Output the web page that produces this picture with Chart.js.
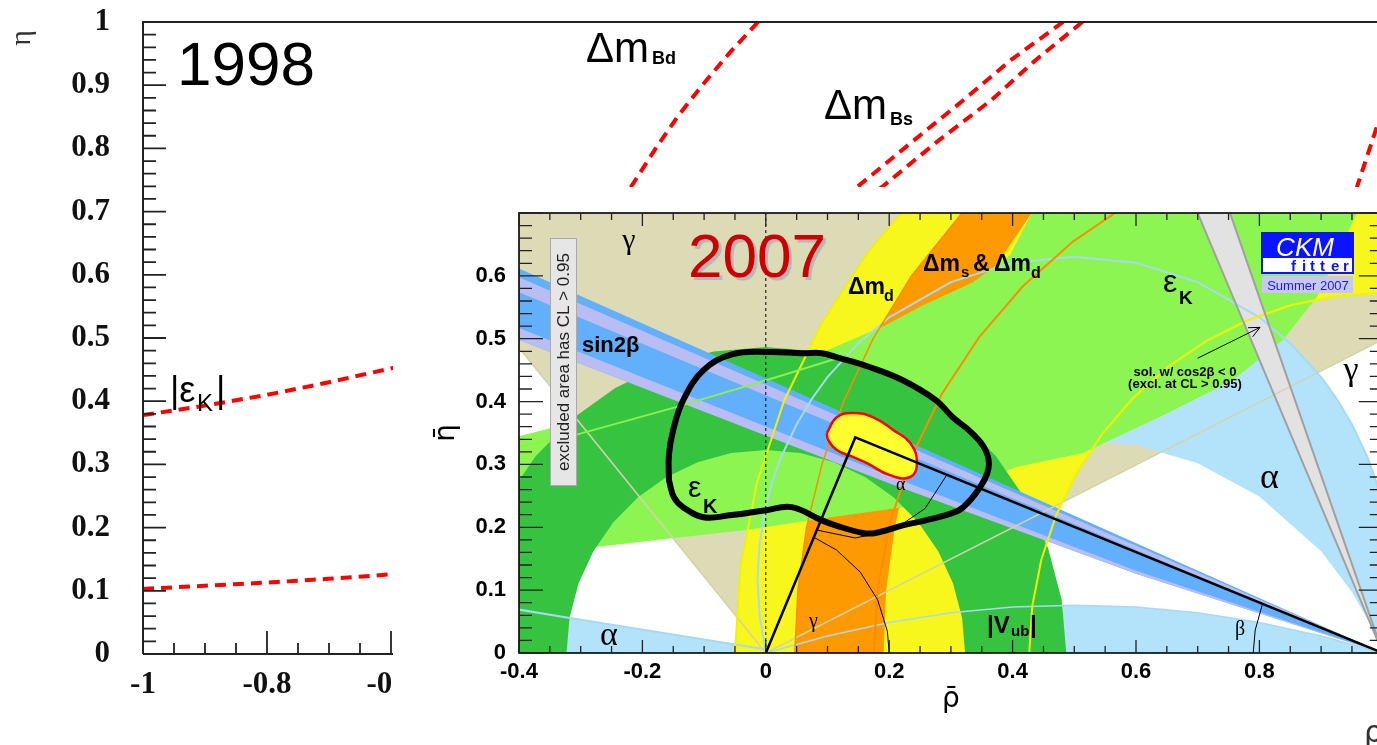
<!DOCTYPE html>
<html><head><meta charset="utf-8">
<script src="https://cdn.jsdelivr.net/npm/chart.js@4.4.1/dist/chart.umd.min.js"></script>
<style>
html,body{margin:0;padding:0;background:#fff;overflow:hidden;width:1377px;height:745px;position:relative;}
#c1{position:absolute;left:0;top:0;}
#wrap2{position:absolute;left:393px;top:187px;width:1002px;height:535px;background:#fff;}
#c2{position:absolute;left:0;top:0;}
</style></head><body>
<canvas id="c1" width="1400" height="745"></canvas>
<div id="wrap2"><canvas id="c2" width="1002" height="535"></canvas></div>
<script>
// ================= 1998 chart data (rho, eta) =================
const xLabels98 = ['-1','-0.8','-0.6','-0.4','-0.2','0','0.2','0.4','0.6','0.8','1'];
const yLabels98 = ['0','0.1','0.2','0.3','0.4','0.5','0.6','0.7','0.8','0.9','1'];
const epsK98Lower = [[-1,0.103],[-0.9,0.108],[-0.8,0.113],[-0.7,0.119],[-0.6,0.126],[-0.55,0.129]];
const epsK98Upper = [[-1,0.378],[-0.9,0.393],[-0.8,0.410],[-0.7,0.430],[-0.6,0.452],[-0.55,0.463]];
const dmBd98  = [[-0.008,1.0],[-0.055,0.95],[-0.098,0.9],[-0.138,0.85],[-0.173,0.8],[-0.213,0.739],[-0.25,0.68]];
const dmBsA98 = [[0.484,1.0],[0.40,0.94],[0.324,0.877],[0.24,0.81],[0.152,0.739],[0.10,0.70]];
const dmBsB98 = [[0.515,1.0],[0.44,0.94],[0.369,0.877],[0.28,0.81],[0.192,0.739],[0.14,0.70]];
const dmRight98 = [[1.0,0.86],[0.99,0.834],[0.958,0.739],[0.94,0.70]];

// ================= 2007 inset data (rho-bar, eta-bar) =================
const xLabelsIn = ['-0.4','-0.2','0','0.2','0.4','0.6','0.8'];
const yLabelsIn = ['0','0.1','0.2','0.3','0.4','0.5','0.6'];
const gammaWedge = [[0,0],[1.6,0.798],[1.6,0.85],[-0.701,0.85],[0,0]];
const alphaOuterArc = [[0,0],[-0.010,0.06],[-0.0135,0.117],[-0.010,0.174],[0,0.234],[0.01,0.2706],[0.025,0.312],[0.05,0.364],[0.075,0.405],[0.1,0.439],[0.15,0.493],[0.2,0.534],[0.3,0.59],[0.4,0.621],[0.5,0.6305],[0.6,0.621],[0.7,0.59],[0.8,0.534],[0.85,0.493],[0.9,0.439],[0.925,0.405],[0.95,0.364],[0.975,0.312],[0.99,0.2706],[1.0,0.234],[1.010,0.174],[1.0135,0.117],[1.010,0.06],[1,0]];
const alphaInnerArc = [[1,0],[0.975,0.054],[0.95,0.097],[0.9,0.162],[0.8,0.249],[0.7,0.302],[0.6,0.331],[0.5,0.34],[0.4,0.331],[0.3,0.302],[0.2,0.249],[0.1,0.162],[0.05,0.097],[0.025,0.054],[0,0]];
const alphaLowArc = [[0,0],[0.1,0.027],[0.2,0.0485],[0.3,0.064],[0.4,0.073],[0.5,0.076],[0.6,0.073],[0.7,0.064],[0.8,0.0485],[0.9,0.027],[1,0]];
const alphaLeft = [[-0.5,0],[-0.5,0.085],[-0.325,0.057],[-0.047,0.013],[0,0.0055],[0,0]];
const alphaLeftEdge = [[-0.5,0.085],[-0.325,0.057],[-0.047,0.013],[0,0.0055]];
const dmdOuter = [[-0.05,0],[-0.041,0.137],[-0.0142,0.2718],[0.0299,0.4018],[0.0907,0.525],[0.167,0.6392],[0.2575,0.7425],[0.3608,0.833],[0.475,0.9093]];
const dmdFar = [[1.5,0.9093],[1.5,0.4962]];
const dmdInner = [[1.2865,0.4962],[1.1483,0.5535],[1,0.573],[0.9252,0.5681],[0.8517,0.5535],[0.7807,0.5294],[0.7135,0.4962],[0.6512,0.4546],[0.5948,0.4052],[0.5454,0.3488],[0.5038,0.2865],[0.4706,0.2193],[0.4465,0.1483],[0.4319,0.0748],[0.427,0]];
const orangeOuter = [[0.047,0],[0.052,0.1],[0.066,0.2],[0.091,0.3],[0.126,0.4],[0.174,0.5],[0.236,0.6],[0.318,0.7],[0.42,0.8]];
const orangeInner = [[0.525,0.8],[0.431,0.7],[0.362,0.6],[0.307,0.5],[0.264,0.4],[0.232,0.3],[0.209,0.2],[0.195,0.1],[0.191,0]];
const dmsArc = [[0.6513,0.7477],[0.5875,0.7145],[0.4978,0.6545],[0.4166,0.5834],[0.3455,0.5022],[0.2855,0.4125],[0.2378,0.3157],[0.2031,0.2135],[0.1821,0.1077],[0.175,0]];
const epsUpper = [[-0.45,0.33],[-0.4,0.345],[-0.3,0.37],[-0.2,0.395],[-0.1,0.42],[0,0.45],[0.091,0.478],[0.193,0.521],[0.254,0.553],[0.336,0.59],[0.396,0.633],[0.431,0.7],[0.45,0.75]];
const epsRight = [[0.98,0.75],[0.958,0.7],[0.925,0.63],[0.893,0.566]];
const epsLower = [[0.838,0.498],[0.757,0.434],[0.650,0.381],[0.514,0.318],[0.406,0.296],[0.3,0.255],[0.222,0.232],[0.1,0.215],[-0.028,0.196],[-0.148,0.183],[-0.272,0.169],[-0.4,0.158],[-0.45,0.154]];
const epsLine = [[-0.45,0.318],[-0.308,0.347],[-0.15,0.39],[0.018,0.439],[0.12,0.47]];
const vubOuter = [[0.487,0],[0.4796,0.0846],[0.4576,0.1666],[0.4218,0.2435],[0.3731,0.3130],[0.3130,0.3731],[0.2435,0.4218],[0.1666,0.4576],[0.0846,0.4796],[0,0.487],[-0.0846,0.4796],[-0.1666,0.4576],[-0.2435,0.4218],[-0.3130,0.3731],[-0.3731,0.3130],[-0.4218,0.2435],[-0.4576,0.1666],[-0.4796,0.0846],[-0.487,0]];
const vubInner = [[-0.323,0],[-0.3181,0.0561],[-0.3035,0.1105],[-0.2797,0.1615],[-0.2474,0.2076],[-0.2076,0.2474],[-0.1615,0.2797],[-0.1105,0.3035],[-0.0561,0.3181],[0,0.323],[0.0561,0.3181],[0.1105,0.3035],[0.1615,0.2797],[0.2076,0.2474],[0.2474,0.2076],[0.2797,0.1615],[0.3035,0.1105],[0.3181,0.0561],[0.323,0]];
const sinBand = [[1,0],[0.6,0.126],[0.2,0.27],[-0.4,0.498],[-0.5,0.535],[-0.5,0.6555]];
const sinLavUpper = [[1,0],[-0.5,0.615],[-0.5,0.6405]];
const sinLavLower = [[1,0],[0.6,0.126],[0.2,0.27],[-0.4,0.498],[-0.5,0.535],[-0.5,0.555],[-0.4,0.517],[0.2,0.282],[0.6,0.131]];
const grayWedge = [[1,0],[0.657,0.8],[0.717,0.8]];
const grayEdgeL = [[1,0],[0.657,0.8]];
const grayEdgeR = [[1,0],[0.717,0.8]];
const tanRayL = [[0,0],[-0.42,0.51]];
const tanRayR = [[0,0],[1.0,0.4986]];
const zeroLine = [[0,0],[0,0.7]];
const utTriangle = [[0,0],[0.145,0.343],[1,0]];
const gammaAngle = [[0.078,0.184],[0.1147,0.1638],[0.1532,0.1286],[0.1813,0.0845],[0.197,0.0347],[0.2,0]];
const alphaAngle = [[0.0828,0.1956],[0.145,0.183],[0.2062,0.1952],[0.2581,0.2299],[0.2934,0.2833]];
const betaAngle = [[0.79,0],[0.7932,0.0365],[0.805,0.078]];
const arrowLine = [[0.700,0.469],[0.801,0.518]];
const arrowHead = [[0.7815,0.5175],[0.801,0.518],[0.789,0.503]];
const fitBlob = [[0.099,0.350],[0.115,0.375],[0.141,0.382],[0.174,0.375],[0.206,0.355],[0.234,0.334],[0.245,0.302],[0.234,0.280],[0.201,0.283],[0.164,0.302],[0.141,0.312],[0.115,0.323],[0.101,0.339],[0.099,0.350]];
const contour98 = [[-0.157,0.275],[-0.157,0.315],[-0.150,0.355],[-0.134,0.402],[-0.101,0.450],[-0.055,0.475],[0.005,0.479],[0.059,0.477],[0.091,0.477],[0.113,0.471],[0.168,0.455],[0.222,0.434],[0.276,0.402],[0.303,0.375],[0.333,0.351],[0.356,0.323],[0.361,0.294],[0.344,0.259],[0.320,0.232],[0.303,0.223],[0.259,0.211],[0.222,0.203],[0.178,0.191],[0.157,0.191],[0.113,0.203],[0.091,0.211],[0.042,0.232],[0.0,0.227],[-0.059,0.219],[-0.101,0.216],[-0.134,0.232],[-0.149,0.248],[-0.157,0.275]];

// ================= helpers =================
const pts = a => a.map(p => ({x:p[0], y:p[1]}));
const lab = (list, v) => { const s = list.find(l => Math.abs(parseFloat(l) - v) < 1e-6); return s === undefined ? '' : s; };
function area(d, color, extra){ return Object.assign({data:pts(d), fill:'shape', backgroundColor:color, borderWidth:0, pointRadius:0, pointHoverRadius:0, tension:0}, extra||{}); }
function line(d, color, w, extra){ return Object.assign({data:pts(d), fill:false, borderColor:color, borderWidth:w, pointRadius:0, pointHoverRadius:0, tension:0}, extra||{}); }
function T(c, s, x, y, font, color, align, base){ c.font=font; c.fillStyle=color||'#000'; c.textAlign=align||'left'; c.textBaseline=base||'alphabetic'; c.fillText(s,x,y); }
const fixV = w => s => { s.width=w; s.paddingTop=0; s.paddingBottom=0; };
const fixH = h => s => { s.height=h; s.paddingLeft=0; s.paddingRight=0; };

// ================= 1998 chart =================
const dashStyle = {borderDash:[11,7], borderCapStyle:'butt'};
const labels98 = [
  {t:'1998', x:177, y:85, f:'62px "Liberation Sans"'},
  {t:'\u0394m', x:586, y:62, f:'42px "Liberation Sans"'},
  {t:'Bd', x:652, y:64, f:'bold 18px "Liberation Sans Narrow","Liberation Sans"'},
  {t:'\u0394m', x:824, y:119, f:'42px "Liberation Sans"'},
  {t:'Bs', x:890, y:125, f:'bold 18px "Liberation Sans Narrow","Liberation Sans"'},
  {t:'|\u03b5', x:170, y:402, f:'36px "Liberation Sans"'},
  {t:'K', x:197, y:411, f:'24px "Liberation Sans"'},
  {t:'|', x:216, y:402, f:'36px "Liberation Sans"'},
  {t:'\u03c1\u0304', x:1364, y:742, f:'30px "DejaVu Sans"', c:'#333'}
];
const frame98 = {
  id:'frame98',
  afterDraw(chart){
    const c=chart.ctx, ca=chart.chartArea, xs=chart.scales.x, ys=chart.scales.y;
    c.save();
    c.strokeStyle='#222'; c.lineWidth=2;
    c.beginPath();
    c.moveTo(ca.left,ca.bottom); c.lineTo(ca.left,ca.top); c.lineTo(ca.right,ca.top);
    c.moveTo(ca.left,ca.bottom); c.lineTo(ca.right,ca.bottom);
    c.stroke();
    c.lineWidth=1.8; c.beginPath();
    for(let i=0;i<=40;i++){ const px=xs.getPixelForValue(-1+i*0.05); const L=(i%4===0)?23:11; c.moveTo(px,ca.bottom); c.lineTo(px,ca.bottom-L); }
    for(let i=0;i<=50;i++){ const py=ys.getPixelForValue(i*0.02); const L=(i%5===0)?23:13; c.moveTo(ca.left,py); c.lineTo(ca.left+L,py); }
    c.stroke();
    labels98.forEach(l => T(c,l.t,l.x,l.y,l.f,l.c||'#000'));
    c.save(); c.translate(22,38); c.rotate(-Math.PI/2);
    T(c,'\u03b7',0,0,'30px "Liberation Serif"','#333','center','middle');
    c.restore();
    c.restore();
  }
};
new Chart(document.getElementById('c1'), {
  type:'line',
  data:{datasets:[
    line(epsK98Lower,'#ff0000',4,dashStyle),
    line(epsK98Upper,'#ff0000',4,dashStyle),
    line(dmBd98,'#ff0000',4,dashStyle),
    line(dmBsA98,'#ff0000',4,dashStyle),
    line(dmBsB98,'#ff0000',4,dashStyle),
    line(dmRight98,'#ff0000',4,dashStyle)
  ]},
  options:{
    responsive:false, animation:false, events:[], devicePixelRatio:1,
    layout:{padding:{left:0,top:22,right:17,bottom:0}},
    plugins:{legend:{display:false}, tooltip:{enabled:false}},
    scales:{
      x:{type:'linear', min:-1, max:1,
         ticks:{stepSize:0.2, autoSkip:false, maxRotation:0, padding:12, color:'#111',
                font:{family:'"Liberation Serif"', weight:'bold', size:31}, callback:v=>lab(xLabels98,v)},
         grid:{display:false, drawTicks:false}, border:{display:false},
         afterFit:fixH(91)},
      y:{type:'linear', min:0, max:1,
         ticks:{stepSize:0.1, autoSkip:false, padding:33, color:'#111',
                font:{family:'"Liberation Serif"', weight:'bold', size:31}, callback:v=>lab(yLabels98,v)},
         grid:{display:false, drawTicks:false}, border:{display:false},
         afterFit:fixV(143)}
    }
  },
  plugins:[frame98]
});

// ================= 2007 inset =================
const OX=393, OY=187;
const TAN='#dddbb5', LBLUE='#b2e3fa', YEL='#f7f71e', ORA='#fd9a02', LGREEN='#8df552', DGREEN='#35c340', BLUE='#62b0fb', LAV='#b9bdf3', GRAY='#e2e2e2';
const insetLabels = [
  {t:'2007', x:691, y:280, f:'62px "Liberation Sans"', c:'#b8b8b8'},
  {t:'2007', x:688, y:277, f:'62px "Liberation Sans"', c:'#cc0000'},
  {t:'\u03b3', x:629, y:249, f:'30px "Liberation Serif"', a:'center'},
  {t:'sin2\u03b2', x:582, y:352, f:'bold 22px "Liberation Sans"'},
  {t:'\u0394m', x:848, y:294, f:'bold 23px "Liberation Sans"'},
  {t:'d', x:884, y:301, f:'bold 16px "Liberation Sans"'},
  {t:'\u0394m', x:923, y:271, f:'bold 23px "Liberation Sans"'},
  {t:'s', x:961, y:277, f:'bold 15px "Liberation Sans"'},
  {t:'&', x:973, y:271, f:'bold 23px "Liberation Sans"'},
  {t:'\u0394m', x:994, y:271, f:'bold 23px "Liberation Sans"'},
  {t:'d', x:1031, y:278, f:'bold 16px "Liberation Sans"'},
  {t:'\u03b5', x:1163, y:292, f:'32px "Liberation Sans"'},
  {t:'K', x:1179, y:304, f:'bold 19px "Liberation Sans"'},
  {t:'\u03b3', x:1351, y:380, f:'34px "Liberation Serif"', a:'center'},
  {t:'\u03b1', x:1260, y:488, f:'36px "Liberation Serif"'},
  {t:'\u03b1', x:600, y:645, f:'34px "Liberation Serif"'},
  {t:'\u03b1', x:896, y:490, f:'18px "Liberation Serif"'},
  {t:'\u03b3', x:809, y:627, f:'20px "Liberation Serif"'},
  {t:'\u03b2', x:1235, y:635, f:'20px "Liberation Serif"'},
  {t:'\u03b5', x:688, y:497, f:'30px "Liberation Sans"'},
  {t:'K', x:703, y:513, f:'bold 20px "Liberation Sans"'},
  {t:'|V', x:987, y:633, f:'bold 24px "Liberation Sans"'},
  {t:'ub', x:1011, y:636, f:'bold 15px "Liberation Sans"'},
  {t:'|', x:1030, y:633, f:'bold 24px "Liberation Sans"'},
  {t:'sol. w/ cos2\u03b2 < 0', x:1185, y:376, f:'bold 13px "Liberation Sans"', a:'center'},
  {t:'(excl. at CL > 0.95)', x:1185, y:388, f:'bold 13px "Liberation Sans"', a:'center'}
];
const insetDeco = {
  id:'insetDeco',
  afterDraw(chart){
    const c=chart.ctx, ca=chart.chartArea, xs=chart.scales.x, ys=chart.scales.y;
    c.save();
    c.strokeStyle='#000'; c.lineWidth=1.6;
    c.strokeRect(ca.left,ca.top,ca.right-ca.left,ca.bottom-ca.top);
    c.lineWidth=1.3; c.strokeStyle='#222'; c.beginPath();
    for(let i=0;i<=28;i++){ const px=xs.getPixelForValue(-0.4+i*0.05); const L=(i%4===0)?13:7;
      c.moveTo(px,ca.bottom); c.lineTo(px,ca.bottom-L); c.moveTo(px,ca.top); c.lineTo(px,ca.top+L); }
    for(let i=0;i<=35;i++){ const py=ys.getPixelForValue(i*0.02); const L=(i%5===0)?24:13;
      c.moveTo(ca.left,py); c.lineTo(ca.left+L,py); c.moveTo(ca.right,py); c.lineTo(ca.right-L,py); }
    c.stroke();
    c.translate(-OX,-OY);
    insetLabels.forEach(l => T(c,l.t,l.x,l.y,l.f,l.c||'#000',l.a||'left'));
    // excluded-area note
    c.fillStyle='#e6e6e6'; c.fillRect(550,238,26,247);
    c.strokeStyle='#aaaaaa'; c.lineWidth=1; c.strokeRect(550.5,238.5,26,247);
    c.save(); c.translate(564,362); c.rotate(-Math.PI/2);
    T(c,'excluded area has CL > 0.95',0,0,'17px "Liberation Sans"','#222','center','middle');
    c.restore();
    // CKMfitter logo
    c.fillStyle='#0a14ff'; c.fillRect(1262,233,91,25);
    T(c,'CKM',1305,256,'italic 26px "Liberation Sans"','#ffffff','center');
    c.fillStyle='#ffffff'; c.fillRect(1263,258,89,14);
    c.strokeStyle='#0a14ff'; c.lineWidth=2; c.strokeRect(1262,233,91,40);
    const fx=[1291,1302,1310,1320,1331,1343];
    'fitter'.split('').forEach((ch,i)=>T(c,ch,fx[i],271,'bold 15px "Liberation Sans"','#0a14ff','left'));
    c.fillStyle='#c8c8f2'; c.fillRect(1262,276,91,17);
    T(c,'Summer 2007',1308,290,'13px "Liberation Sans"','#1a1aff','center');
    c.restore();
  }
};
const layers = [
  area(gammaWedge, TAN),
  area(alphaOuterArc.concat(alphaInnerArc), LBLUE),
  area(alphaLowArc, LBLUE),
  area(alphaLeft, LBLUE),
  area(dmdOuter.concat(dmdFar, dmdInner), YEL),
  area(orangeOuter.concat(orangeInner), ORA),
  area(epsUpper.concat(epsRight, epsLower), LGREEN),
  area(vubOuter.concat(vubInner), DGREEN),
  area(sinBand, BLUE),
  area(sinLavUpper, LAV),
  area(sinLavLower, LAV),
  area(grayWedge, GRAY),
  line(tanRayL,'#d6d2a8',1.5),
  line(tanRayR,'#d6d2a8',1.5),
  line(alphaOuterArc,'#a6daf2',2),
  line(alphaLowArc,'#a6daf2',1.5),
  line(alphaLeftEdge,'#a6daf2',2),
  line(dmdOuter,'#f2f200',2),
  line(dmdInner,'#f2f200',2),
  line(orangeOuter,'#ff8c00',1.5),
  line(dmsArc,'#ff8c00',2),
  line(epsLine,'#8cf04c',2),
  line(grayEdgeL,'#a0a0a0',2),
  line(grayEdgeR,'#a0a0a0',2),
  line(zeroLine,'#000',1,{borderDash:[3,3]}),
  area(fitBlob,'#ffff30',{borderWidth:2.5, borderColor:'#ff0000', tension:0.45}),
  line(utTriangle,'#000',2.5),
  line(gammaAngle,'#000',1),
  line(alphaAngle,'#000',1),
  line(betaAngle,'#000',1),
  line(arrowLine,'#000',1),
  line(arrowHead,'#000',1),
  line(contour98,'#000',6,{tension:0.4, borderJoinStyle:'round', borderCapStyle:'round'})
];
layers.forEach((d,i)=>{ d.order = layers.length - i; });
new Chart(document.getElementById('c2'), {
  type:'line',
  data:{datasets:layers},
  options:{
    responsive:false, animation:false, events:[], devicePixelRatio:1,
    layout:{padding:{left:0,top:26,right:12.2,bottom:0}},
    plugins:{legend:{display:false}, tooltip:{enabled:false}},
    scales:{
      x:{type:'linear', min:-0.4, max:1.0,
         ticks:{stepSize:0.2, autoSkip:false, maxRotation:0, padding:6, color:'#000',
                font:{family:'"Liberation Sans"', weight:'bold', size:22}, callback:v=>lab(xLabelsIn,v)},
         grid:{display:false, drawTicks:false}, border:{display:false},
         title:{display:true, text:'\u03c1\u0304', color:'#000', font:{family:'"DejaVu Sans"', size:28}, padding:{top:0,bottom:5}},
         afterFit:fixH(69)},
      y:{type:'linear', min:0, max:0.7,
         ticks:{stepSize:0.1, autoSkip:false, padding:13, color:'#000',
                font:{family:'"Liberation Sans"', weight:'bold', size:22}, callback:v=>lab(yLabelsIn,v)},
         grid:{display:false, drawTicks:false}, border:{display:false},
         title:{display:true, text:'\u03b7\u0304', color:'#000', font:{family:'"DejaVu Sans"', size:28}, padding:{top:37,bottom:0}},
         afterFit:fixV(126)}
    }
  },
  plugins:[insetDeco]
});
</script>
</body></html>
